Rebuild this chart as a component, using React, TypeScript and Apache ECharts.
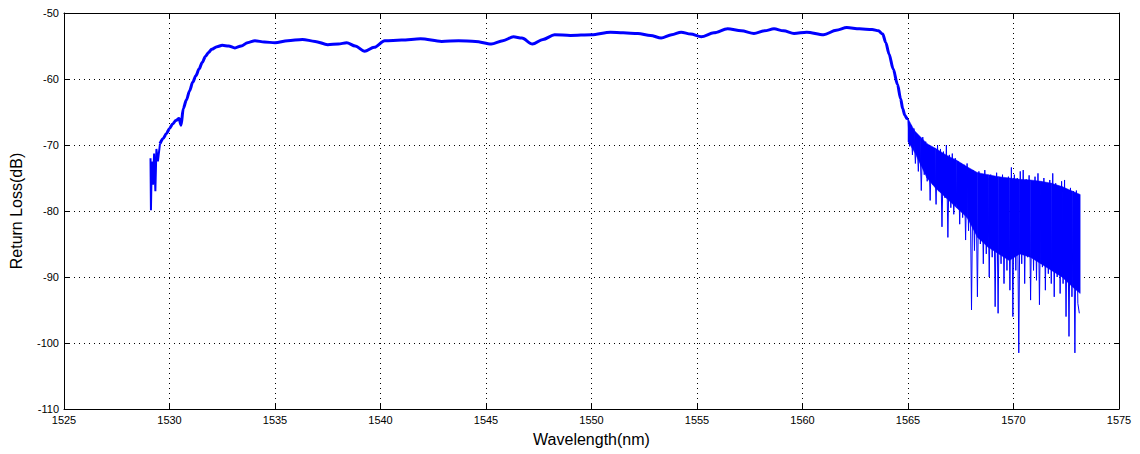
import React, { useEffect, useRef } from "react";
import * as echarts from "echarts";

// Smooth (thick) part of the trace: [wavelength nm, return loss dB]
const startSpikes: [number, number][] = [
  [1529.10, -72.0], [1529.12, -79.9], [1529.16, -72.5], [1529.22, -76.0], [1529.27, -71.3],
  [1529.33, -77.0], [1529.38, -70.6], [1529.45, -72.5], [1529.55, -69.8],
];
const mainTrace: [number, number][] = [
  [1529.55, -69.8], [1529.70, -69.0],
  [1529.85, -68.3], [1530.00, -67.5], [1530.15, -66.8], [1530.30, -66.3], [1530.45, -66.0],
  [1530.55, -67.0], [1530.65, -64.5], [1530.80, -63.2], [1530.95, -61.8], [1531.10, -60.5],
  [1531.25, -59.5], [1531.40, -58.5], [1531.55, -57.5], [1531.70, -56.6], [1531.85, -56.0],
  [1532.00, -55.5], [1532.25, -55.1], [1532.50, -54.9], [1532.80, -55.0], [1533.10, -55.3],
  [1533.40, -55.0], [1533.70, -54.5], [1534.05, -54.2], [1534.50, -54.4], [1535.00, -54.5],
  [1535.60, -54.2], [1536.30, -54.0], [1536.90, -54.3], [1537.50, -54.8], [1538.00, -54.7],
  [1538.40, -54.5], [1538.80, -55.0], [1539.25, -55.8], [1539.70, -55.2], [1540.20, -54.2],
  [1541.00, -54.1], [1541.90, -53.9], [1542.90, -54.3], [1543.70, -54.2], [1544.50, -54.3],
  [1545.25, -54.7], [1545.80, -54.2], [1546.30, -53.6], [1546.70, -53.8], [1547.20, -54.7],
  [1547.70, -54.0], [1548.25, -53.3], [1549.00, -53.4], [1550.00, -53.3], [1550.90, -52.9],
  [1551.50, -53.0], [1552.20, -53.1], [1552.80, -53.4], [1553.30, -53.8], [1553.80, -53.3],
  [1554.25, -52.9], [1554.70, -53.2], [1555.20, -53.6], [1555.80, -53.0], [1556.45, -52.4],
  [1557.10, -52.7], [1557.70, -53.1], [1558.20, -52.7], [1558.65, -52.4], [1559.10, -52.7],
  [1559.60, -53.1], [1560.20, -52.9], [1561.00, -53.3], [1561.60, -52.6], [1562.10, -52.2],
  [1562.70, -52.4], [1563.30, -52.5], [1563.60, -52.7], [1563.80, -53.2], [1563.95, -54.5],
  [1564.10, -56.2], [1564.30, -58.5], [1564.50, -60.8], [1564.65, -63.0], [1564.75, -64.5],
  [1564.85, -65.5], [1564.95, -66.0], [1565.00, -66.0],
];

// Dense noise core of the tail: wavelength, upper edge, lower edge (dB)
const bandWavelength = [
  1565.0, 1565.3, 1565.6, 1565.9, 1566.3, 1566.8, 1567.3, 1567.8, 1568.3, 1568.8,
  1569.3, 1569.8, 1570.3, 1570.8, 1571.3, 1571.8, 1572.3, 1572.8, 1573.16,
];
const bandUpper = [
  -66.0, -67.8, -68.8, -69.8, -70.5, -71.5, -72.3, -73.3, -74.2, -74.5,
  -74.8, -75.0, -75.2, -75.3, -75.5, -75.8, -76.3, -77.0, -77.5,
];
const bandLower = [
  -69.5, -71.0, -73.0, -75.0, -76.5, -78.0, -79.5, -81.0, -84.0, -85.5,
  -86.5, -87.5, -86.5, -87.0, -88.0, -89.0, -90.0, -91.5, -92.5,
];

// Sampled noisy tail (spikes), one reading every 0.07 nm from 1565.00 nm
const noiseStart = 1565.0;
const noiseStep = 0.07;
const noiseValues = [
  -66.0, -70.2, -67.0, -71.5, -67.5, -72.8, -68.5, -74.0, -68.8, -76.9,
  -68.8, -74.5, -69.5, -75.5, -70.0, -78.4, -70.5, -76.0, -70.8, -79.0,
  -70.0, -77.0, -70.6, -82.4, -71.0, -78.0, -70.0, -84.0, -71.5, -79.5,
  -71.3, -80.5, -72.0, -79.0, -72.5, -82.0, -72.8, -81.0, -73.0, -84.4,
  -72.8, -83.0, -74.0, -95.0, -73.8, -86.0, -74.5, -93.0, -74.0, -85.0,
  -74.8, -88.0, -73.8, -86.5, -75.0, -90.0, -74.5, -87.0, -74.8, -94.5,
  -74.2, -95.5, -75.0, -88.0, -74.5, -91.0, -75.5, -89.0, -74.8, -92.0,
  -73.4, -96.0, -74.5, -89.0, -75.0, -101.5, -74.0, -88.0, -73.8, -91.0,
  -75.2, -87.0, -74.6, -93.5, -75.5, -89.0, -74.8, -90.5, -74.3, -94.2,
  -75.8, -88.5, -75.0, -92.0, -76.0, -89.5, -75.3, -91.0, -74.3, -93.0,
  -75.8, -90.0, -76.2, -92.5, -75.5, -91.0, -75.3, -96.0, -76.8, -99.0,
  -76.5, -93.0, -77.0, -101.5, -76.9, -94.0, -95.5,
];

const xTicks = { min: 1525, max: 1575, interval: 5 };
const yTicks = { min: -110, max: -50, interval: 10 };

const BLUE = "#0000ff";
const FONT = "Liberation Sans, Arial, sans-serif";

export default function App() {
  const ref = useRef<HTMLDivElement>(null);

  useEffect(() => {
    if (!ref.current) return;
    const chart = echarts.init(ref.current, null, { renderer: "svg" });

    const noiseData = noiseValues.map((v, i) => [
      +(noiseStart + i * noiseStep).toFixed(3),
      v,
    ]);
    const bandData = bandWavelength.map((w, i) => [w, bandUpper[i], bandLower[i]]);

    const axisLine = { show: true, lineStyle: { color: "#000", width: 1 } };
    const tick = { show: true, inside: true, length: 5, lineStyle: { color: "#000" } };
    const fmt = (v: number) => String(v);

    chart.setOption({
      animation: false,
      backgroundColor: "#fff",
      grid: { left: 62, right: 21, top: 13, bottom: 45, containLabel: false },
      xAxis: [
        {
          type: "value",
          ...xTicks,
          position: "bottom",
          axisLine,
          axisTick: tick,
          axisLabel: { color: "#000", fontSize: 11, fontFamily: FONT, margin: 5, formatter: fmt },
          splitLine: { show: true, lineStyle: { color: "#000", type: [1, 4], width: 1 } },
          name: "Wavelength(nm)",
          nameLocation: "middle",
          nameGap: 22,
          nameTextStyle: { color: "#000", fontSize: 16, fontFamily: FONT },
        },
        {
          type: "value",
          ...xTicks,
          position: "top",
          axisLine,
          axisTick: tick,
          axisLabel: { show: false },
          splitLine: { show: false },
        },
      ],
      yAxis: [
        {
          type: "value",
          ...yTicks,
          position: "left",
          axisLine,
          axisTick: tick,
          axisLabel: { color: "#000", fontSize: 11, fontFamily: FONT, margin: 5, formatter: fmt },
          splitLine: { show: true, lineStyle: { color: "#000", type: [1, 4], width: 1 } },
          name: "Return Loss(dB)",
          nameLocation: "middle",
          nameGap: 40,
          nameTextStyle: { color: "#000", fontSize: 16, fontFamily: FONT },
        },
        {
          type: "value",
          ...yTicks,
          position: "right",
          axisLine,
          axisTick: tick,
          axisLabel: { show: false },
          splitLine: { show: false },
        },
      ],
      series: [
        {
          type: "custom",
          name: "band",
          data: bandData,
          silent: true,
          renderItem: (params: any, api: any) => {
            const i = params.dataIndex;
            if (i >= bandData.length - 1) return null;
            const a = bandData[i];
            const b = bandData[i + 1];
            const pts = [
              api.coord([a[0], a[1]]),
              api.coord([b[0], b[1]]),
              api.coord([b[0], b[2]]),
              api.coord([a[0], a[2]]),
            ];
            return {
              type: "polygon",
              shape: { points: pts },
              style: { fill: BLUE, stroke: BLUE, lineWidth: 0.5 },
            };
          },
        },
        {
          type: "line",
          name: "noise",
          data: noiseData,
          symbol: "none",
          lineStyle: { color: BLUE, width: 1 },
          silent: true,
        },
        {
          type: "line",
          name: "startSpikes",
          data: startSpikes,
          symbol: "none",
          lineStyle: { color: BLUE, width: 2 },
          silent: true,
        },
        {
          type: "line",
          name: "trace",
          data: mainTrace,
          symbol: "none",
          smooth: 0.3,
          smoothMonotone: "x",
          lineStyle: { color: BLUE, width: 3 },
          silent: true,
        },
      ],
    });

    return () => chart.dispose();
  }, []);

  return (
    <div
      ref={ref}
      style={{ position: "fixed", left: 0, top: 0, width: 1140, height: 454, background: "#fff" }}
    />
  );
}
